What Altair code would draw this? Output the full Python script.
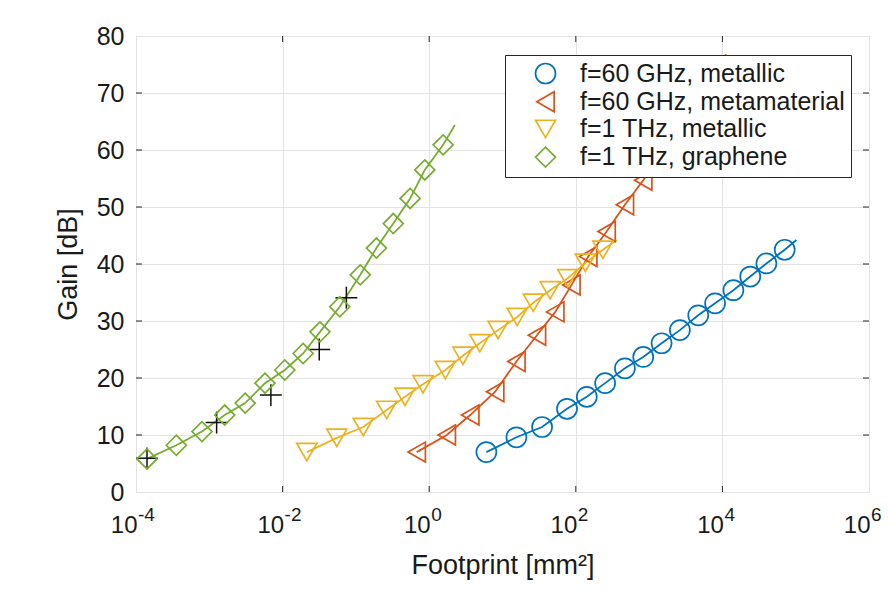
import altair as alt
import pandas as pd

series = ["f=60 GHz, metallic", "f=60 GHz, metamaterial", "f=1 THz, metallic", "f=1 THz, graphene"]
colors = ["#0072BD", "#D95319", "#EDB120", "#77AC30"]
shapes = ["circle", "triangle-left", "triangle-down", "diamond"]

# log10(footprint [mm^2]) and gain [dB] of the markers
blue_logx = [0.78, 1.19, 1.54, 1.88, 2.15, 2.40, 2.67, 2.92, 3.17, 3.42, 3.67, 3.90, 4.15, 4.38, 4.60, 4.85]
blue_gain = [7.0, 9.6, 11.4, 14.6, 16.7, 19.1, 21.7, 23.7, 26.1, 28.4, 31.0, 33.1, 35.4, 37.8, 40.1, 42.5]
red_logx = [-0.17, 0.24, 0.56, 0.90, 1.19, 1.47, 1.72, 1.94, 2.17, 2.42, 2.67, 2.92]
red_gain = [7.0, 10.0, 13.5, 17.6, 22.9, 27.5, 31.6, 36.3, 41.3, 45.7, 50.4, 54.7]
yellow_logx = [-1.67, -1.26, -0.90, -0.58, -0.33, -0.085, 0.22, 0.46, 0.69, 0.94, 1.20, 1.42, 1.65, 1.89, 2.13, 2.37]
yellow_gain = [7.0, 9.5, 11.4, 14.4, 16.7, 18.9, 21.4, 23.9, 26.1, 28.4, 30.7, 33.2, 35.4, 37.5, 40.2, 42.5]
green_logx = [-3.85, -3.45, -3.10, -2.79, -2.51, -2.24, -1.97, -1.72, -1.49, -1.22, -0.94, -0.72, -0.49, -0.26, -0.06, 0.19]
green_gain = [5.8, 8.2, 10.6, 13.5, 15.6, 19.1, 21.4, 24.3, 28.1, 32.5, 38.1, 42.8, 47.1, 51.5, 56.5, 60.9]

# end points of the continuous curves (beyond the last marker)
line_end_logx = [5.01, 4.05, 2.56, 0.35]
line_end_gain = [44.2, 76.8, 44.2, 64.4]

# black "+" reference points
plus_logx = [-3.85, -2.90, -2.16, -1.50, -1.13]
plus_gain = [5.9, 12.2, 17.0, 25.0, 34.1]

x_tick_values = [1e-4, 1e-2, 1e0, 1e2, 1e4, 1e6]
x_tick_base = "10"
x_tick_exponents = ["-4", "-2", "0", "2", "4", "6"]
y_tick_values = [0, 10, 20, 30, 40, 50, 60, 70, 80]
inner_x_ticks = [1e-2, 1e0, 1e2, 1e4]
inner_y_ticks = [10, 20, 30, 40, 50, 60, 70]

all_logx = [blue_logx, red_logx, yellow_logx, green_logx]
all_gain = [blue_gain, red_gain, yellow_gain, green_gain]

mrows, lrows = [], []
for i, s in enumerate(series):
    for j, (lx, g) in enumerate(zip(all_logx[i], all_gain[i])):
        mrows.append({"series": s, "x": 10 ** lx, "gain": g})
        lrows.append({"series": s, "x": 10 ** lx, "gain": g, "order": j})
    lrows.append({"series": s, "x": 10 ** line_end_logx[i], "gain": line_end_gain[i], "order": 999})
markers = pd.DataFrame(mrows)
lines = pd.DataFrame(lrows)
plus = pd.DataFrame({"x": [10 ** v for v in plus_logx], "gain": plus_gain})
xt = pd.DataFrame({"x": inner_x_ticks})
yt = pd.DataFrame({"gain": inner_y_ticks})
expo = pd.DataFrame({"x": x_tick_values, "e": x_tick_exponents})

W, H = 733, 456
FONT = "Liberation Sans"
TXT = "#1a1a1a"

xscale = alt.Scale(type="log", domain=[1e-4, 1e6])
yscale = alt.Scale(domain=[0, 80])

xaxis = alt.Axis(values=x_tick_values, labelExpr=f"'{x_tick_base}'", title="Footprint [mm²]",
                 grid=True, gridColor="#e3e3e3", gridWidth=1, domain=False, ticks=False, tickSize=0,
                 labelFontSize=24, labelPadding=40, labelBaseline="alphabetic", labelAlign="right",
                 labelOffset=1, labelFont=FONT, labelColor=TXT, labelFlush=False, labelOverlap=False,
                 titleFontSize=27, titleFont=FONT, titleFontWeight="normal", titleColor=TXT,
                 titleY=81, titleBaseline="alphabetic")
yaxis = alt.Axis(values=y_tick_values, title="Gain [dB]",
                 grid=True, gridColor="#e3e3e3", gridWidth=1, domain=False, ticks=False, tickSize=0,
                 labelFontSize=25, labelPadding=12, labelFont=FONT, labelColor=TXT, labelFlush=False,
                 titleFontSize=27, titleFont=FONT, titleFontWeight="normal", titleColor=TXT,
                 titleX=-68, titleY=H / 2, titleAngle=-90, titleBaseline="middle", titleAlign="center")

color_scale = alt.Scale(domain=series, range=colors)
shape_scale = alt.Scale(domain=series, range=shapes)

line_layers = []
for i, (s, c) in enumerate(zip(series, colors)):
    enc = dict(x=alt.X("x:Q", scale=xscale), y=alt.Y("gain:Q", scale=yscale), order="order:Q")
    if i == 0:
        enc = dict(x=alt.X("x:Q", scale=xscale, axis=xaxis), y=alt.Y("gain:Q", scale=yscale, axis=yaxis),
                   order="order:Q")
    line_layers.append(
        alt.Chart(lines).transform_filter(alt.datum.series == s).mark_line(strokeWidth=1.8, color=c).encode(**enc)
    )

legend = alt.Legend(title=None, orient="none", legendX=369, legendY=19, direction="vertical",
                    fillColor="white", strokeColor="#262626",
                    padding=6, symbolOffset=22, labelOffset=22, labelFontSize=25, labelFont=FONT,
                    labelColor=TXT, symbolSize=400, symbolStrokeWidth=1.7, rowPadding=1.2,
                    labelLimit=500, labelExpr="datum.label + '\u00a0\u00a0\u00a0\u00a0'")

marker_layer = alt.Chart(markers).mark_point(filled=False, size=400, strokeWidth=1.7, opacity=1).encode(
    x=alt.X("x:Q", scale=xscale),
    y=alt.Y("gain:Q", scale=yscale),
    color=alt.Color("series:N", scale=color_scale, legend=legend),
    shape=alt.Shape("series:N", scale=shape_scale, legend=legend),
)

plus_layer = alt.Chart(plus).mark_point(shape="M-1,0L1,0M0,-1L0,1", size=480, color="#111111",
                                        strokeWidth=1.5, filled=False, opacity=1).encode(
    x=alt.X("x:Q", scale=xscale),
    y=alt.Y("gain:Q", scale=yscale),
)

expo_layer = alt.Chart(expo).mark_text(align="left", baseline="alphabetic", dx=2, fontSize=19,
                                       font=FONT, color=TXT).encode(
    x=alt.X("x:Q", scale=xscale),
    y=alt.value(H + 29),
    text="e:N",
)

tick_style = dict(color="#262626", strokeWidth=1)
bt = alt.Chart(xt).mark_rule(**tick_style).encode(x=alt.X("x:Q", scale=xscale), y=alt.value(H), y2=alt.value(H - 6))
tt = alt.Chart(xt).mark_rule(**tick_style).encode(x=alt.X("x:Q", scale=xscale), y=alt.value(0), y2=alt.value(6))
lt = alt.Chart(yt).mark_rule(**tick_style).encode(y=alt.Y("gain:Q", scale=yscale), x=alt.value(0), x2=alt.value(6))
rt = alt.Chart(yt).mark_rule(**tick_style).encode(y=alt.Y("gain:Q", scale=yscale), x=alt.value(W), x2=alt.value(W - 6))

chart = alt.layer(*line_layers, bt, tt, lt, rt, plus_layer, marker_layer, expo_layer).properties(
    width=W, height=H,
    autosize=alt.AutoSizeParams(type="none"),
    padding={"left": 128, "top": 28, "right": 12, "bottom": 90},
).configure_view(stroke="#262626", strokeWidth=1.2).configure(background="white")

chart.save("out.html", embed_options={"renderer": "svg", "actions": False})
